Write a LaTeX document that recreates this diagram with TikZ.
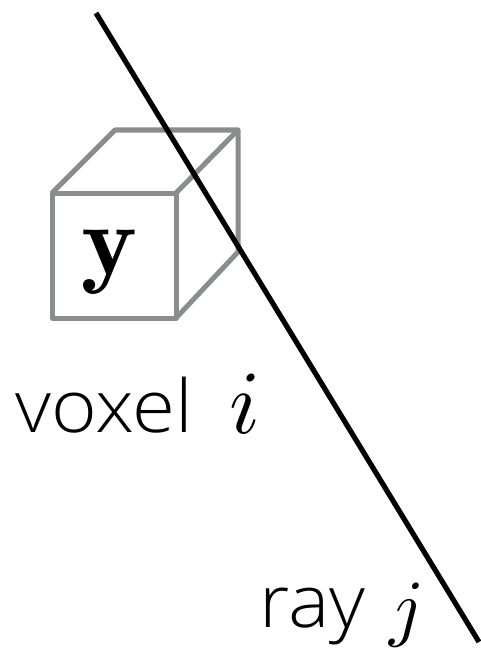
\documentclass[tikz,border=0pt]{standalone}
\usepackage{amsmath,amssymb,xcolor,fontspec}
\setsansfont{Open Sans Light}
\definecolor{Cube}{HTML}{8A8C8E}
\begin{document}
\begin{tikzpicture}[x=1pt,y=-1pt,cubeline/.style={draw=Cube,line width=5pt,line join=round},
rayline/.style={draw=black,line width=5.2pt},
labeltext/.style={inner sep=0pt,anchor=base west,xscale=1.07,font=\sffamily\fontsize{73}{73}\selectfont},
mathtext/.style={inner sep=0pt,anchor=base west}]
\useasboundingbox(0,0)rectangle(481,650);
\coordinate(rayA)at(96,13);
\coordinate(rayB)at(479,642);
\draw[cubeline](52,193)rectangle(176,318);
\draw[cubeline](52,193)--(115,130)--(238,130)--(238,252)--(176,318);
\draw[cubeline](176,193)--(238,130);
\draw[rayline](rayA)--(rayB);
\node[inner sep=0pt,anchor=base,xscale=10.6,yscale=10]at(109.5,274){$\mathbf{y}$};
\node[labeltext]at(15,432){voxel};
\node[mathtext,scale=9]at(228,433){$i$};
\node[labeltext]at(259,627){ray};
\node[mathtext,scale=7.5]at(388,632){$j$};
\end{tikzpicture}
\end{document}
